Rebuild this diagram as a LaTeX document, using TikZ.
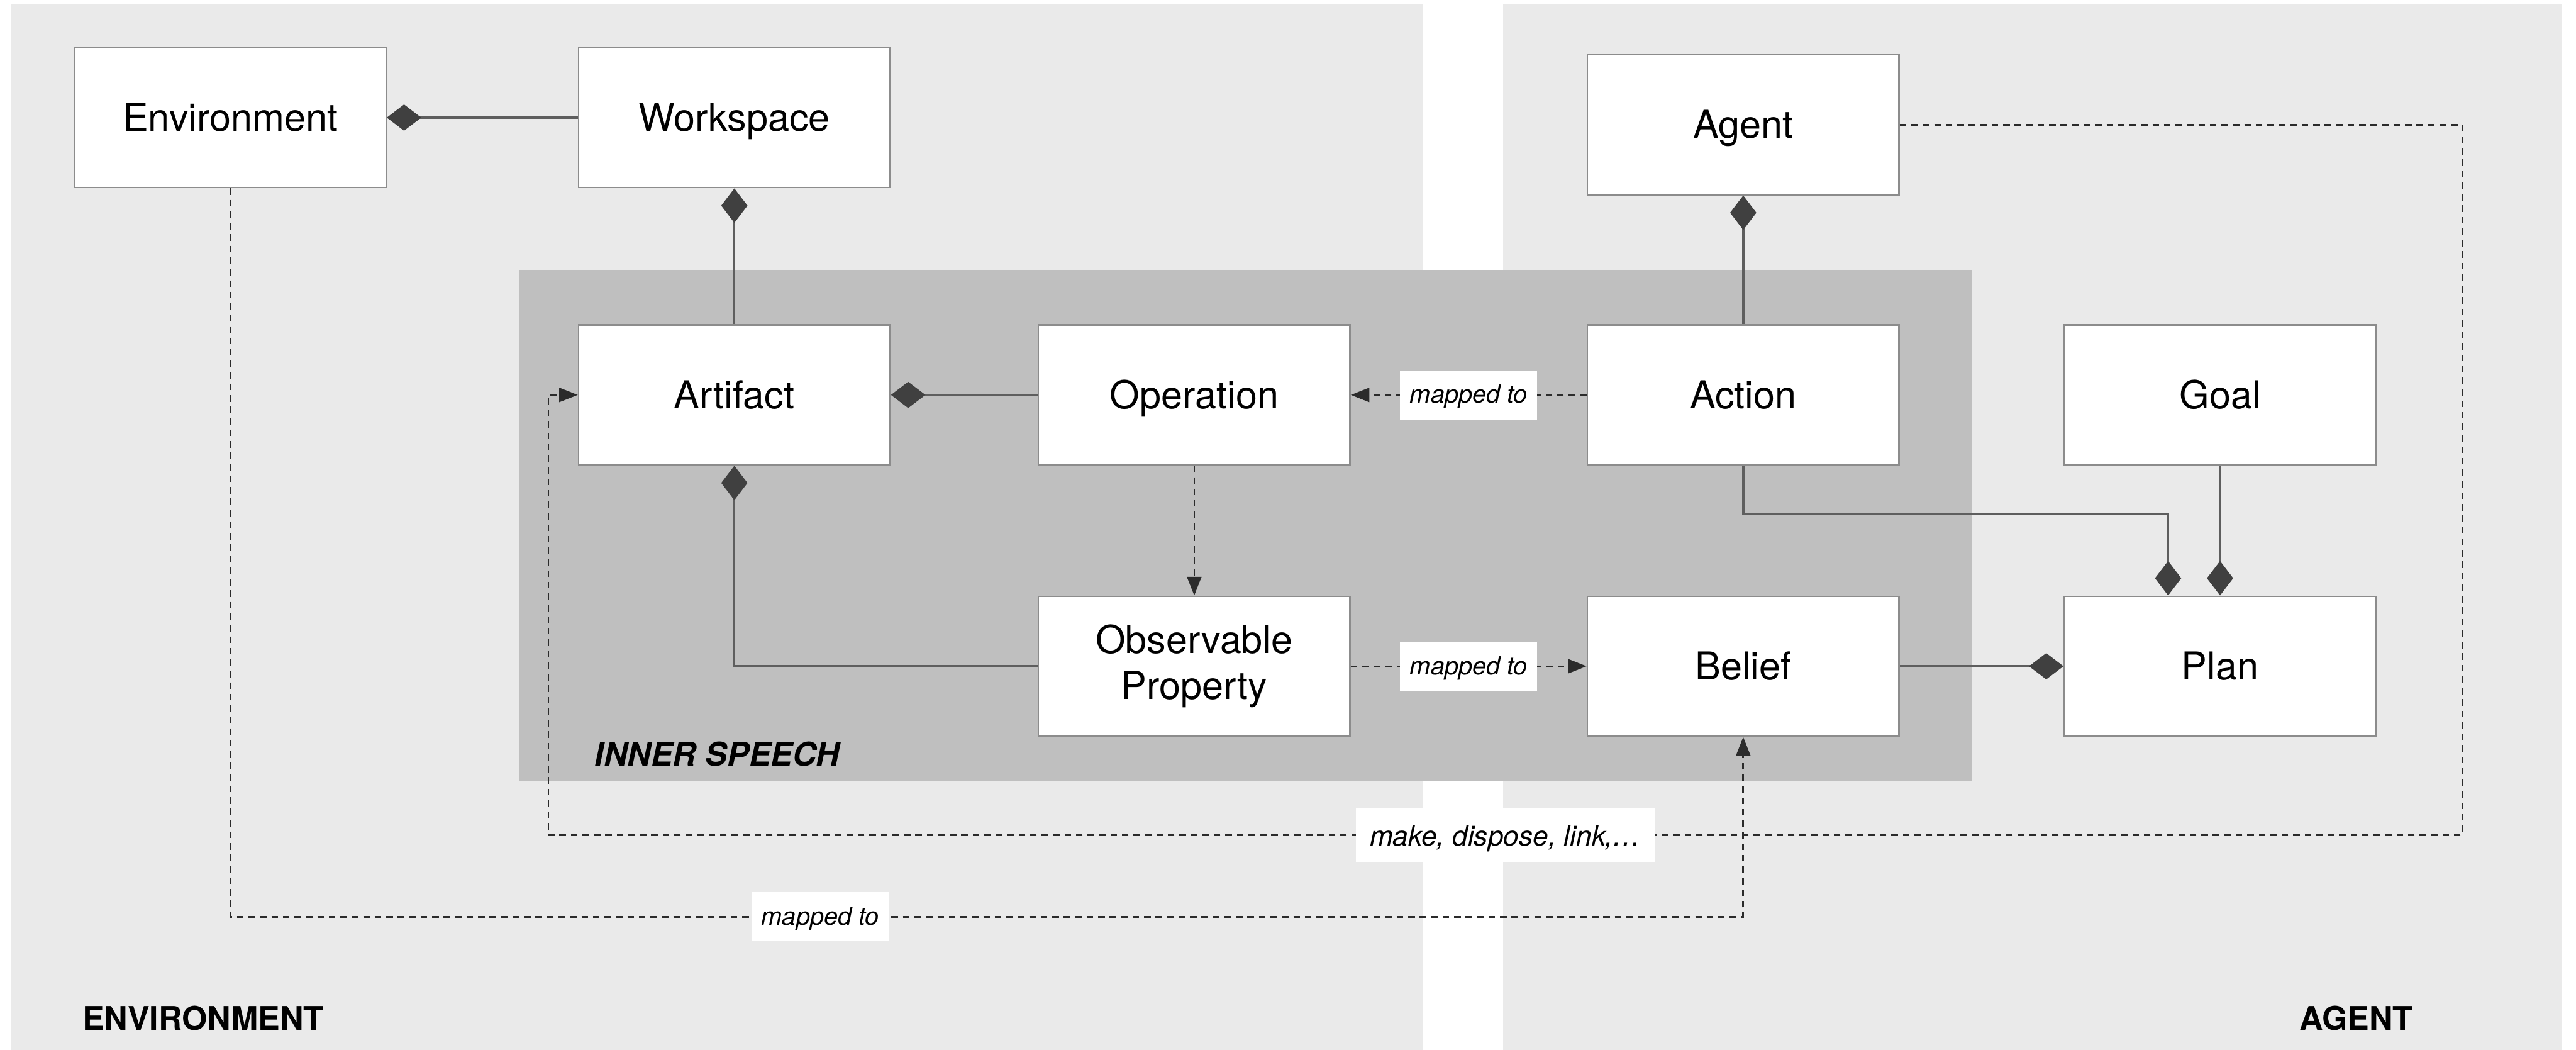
\documentclass[tikz,border=0pt]{standalone}
\usepackage{fontspec}
\setmainfont{TeX Gyre Heros}
\usetikzlibrary{arrows.meta}
\definecolor{panelgrey}{HTML}{EAEAEA}
\definecolor{innergrey}{HTML}{BFBFBF}
\definecolor{boxline}{HTML}{8C8C8C}
\definecolor{linkgrey}{HTML}{5E5E5E}
\definecolor{diamondgrey}{HTML}{404040}
\definecolor{dashgrey}{HTML}{2B2B2B}

\begin{document}
\begin{tikzpicture}[
    twoline/.style={draw=boxline, line width=0.8pt, fill=white, minimum width=5.7cm, minimum height=2.56cm, align=center, font=\fontsize{20}{24}\selectfont},
    concept/.style={twoline, text height=14.5pt, text depth=0.3pt},
    compose/.style={draw=linkgrey, line width=1.1pt, {Diamond[length=0.63cm, width=0.48cm, fill=diamondgrey, color=diamondgrey]}-},
    maparrow/.style={draw=dashgrey, line width=0.9pt, dash pattern=on 0.12cm off 0.09cm, -{Triangle[length=0.34cm, width=0.26cm]}},
    maptext/.style={fill=white, inner xsep=0.18cm, minimum height=0.9cm, text height=10pt, text depth=1.5pt, font=\fontsize{13}{15}\selectfont\itshape},
    zonetext/.style={inner sep=0pt, font=\fontsize{17}{20}\selectfont\bfseries}
  ]
    \useasboundingbox (0,0) rectangle (47.11,-19.19);
    \fill[white] (0,0) rectangle (47.11,-19.19);

    % Two zones and the inner speech area
    \fill[panelgrey] (0.20,-0.08) rectangle (26.02,-19.19);
    \fill[panelgrey] (27.49,-0.08) rectangle (46.86,-19.19);
    \fill[innergrey] (9.49,-4.93) rectangle (36.06,-14.27);

    \node[zonetext, anchor=west] (envzone) at (1.50,-18.61) {ENVIRONMENT};
    \node[zonetext, anchor=east] (agentzone) at (44.13,-18.61) {AGENT};
    \node[zonetext, font=\fontsize{17}{20}\selectfont\bfseries\itshape, anchor=west] (innerzone) at (10.87,-13.78) {INNER SPEECH};

    % Concepts
    \node[concept] (env) at (4.21,-2.15) {Environment};
    \node[concept] (workspace) at (13.43,-2.15) {Workspace};
    \node[concept] (agent) at (31.88,-2.28) {Agent};
    \node[concept] (artifact) at (13.43,-7.22) {Artifact};
    \node[concept] (operation) at (21.84,-7.22) {Operation};
    \node[concept] (action) at (31.88,-7.22) {Action};
    \node[concept] (goal) at (40.60,-7.22) {Goal};
    \node[twoline] (obsprop) at (21.84,-12.18) {Observable\\Property};
    \node[concept] (belief) at (31.88,-12.18) {Belief};
    \node[concept] (plan) at (40.60,-12.18) {Plan};

    % Composition links
    \draw[compose] (env.east) -- (workspace.west);
    \draw[compose] (workspace.south) -- (artifact.north);
    \draw[compose] (artifact.east) -- (operation.west);
    \draw[compose] (artifact.south) |- (obsprop.west);
    \draw[compose] (agent.south) -- (action.north);
    \draw[compose] (plan.north) -- (goal.south);
    \draw[compose] (plan.west) -- (belief.east);
    \coordinate (planin) at ([xshift=-0.95cm]plan.north);
    \coordinate (actbend) at (31.88,-9.40);
    \draw[compose] (planin) |- (actbend) -- (action.south);

    % Mappings
    \draw[maparrow] (action.west) -- node[maptext] {mapped to} (operation.east);
    \draw[maparrow] (obsprop.east) -- node[maptext] {mapped to} (belief.west);
    \draw[maparrow] (operation.south) -- (obsprop.north);

    \coordinate (agentbend) at (45.03,-15.27);
    \coordinate (artbend) at (10.03,-15.27);
    \draw[maparrow] (agent.east) -| (agentbend) -- node[maptext, font=\fontsize{14.5}{17}\selectfont\itshape, minimum height=0.98cm, inner xsep=0.25cm, text height=12pt, text depth=1pt] {make, dispose, link,\dots} (artbend) |- (artifact.west);

    \coordinate (envcorner) at (4.21,-16.76);
    \coordinate (envbend) at (31.88,-16.76);
    \draw[maparrow] (env.south) -- (envcorner) -- node[maptext, pos=0.39] {mapped to} (envbend) -- (belief.south);
  \end{tikzpicture}
\end{document}
